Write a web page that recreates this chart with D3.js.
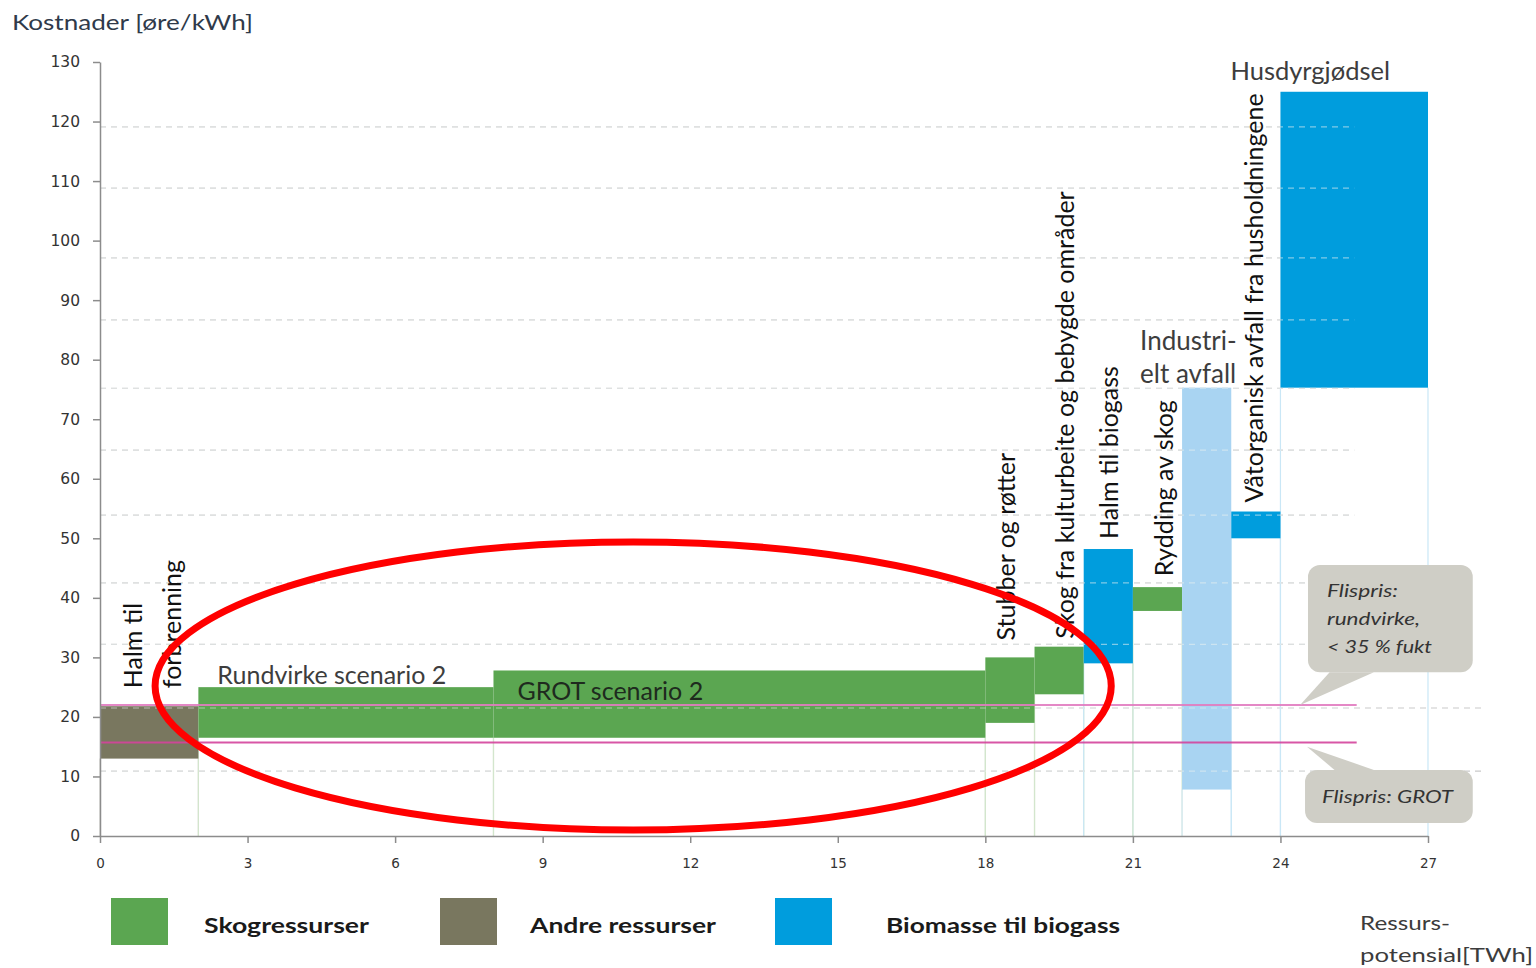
<!DOCTYPE html>
<html>
<head>
<meta charset="utf-8">
<script src="https://cdn.jsdelivr.net/npm/d3@7"></script>
<style>
  html, body { margin: 0; padding: 0; background: #ffffff; }
  svg { display: block; font-family: Lato, "Open Sans", "DejaVu Sans", sans-serif; }
</style>
</head>
<body>
<svg id="chart" width="1536" height="968"></svg>
<script>
// ---- Supply curve data: cost range (øre/kWh) per resource and its potential (TWh) ----
const resources = [
  'Halm til forbrenning', 'Rundvirke scenario 2', 'GROT scenario 2', 'Stubber og røtter',
  'Skog fra kulturbeite og bebygde områder', 'Halm til biogass', 'Rydding av skog',
  'Industrielt avfall', 'Våtorganisk avfall fra husholdningene', 'Husdyrgjødsel'
];
const potentialTWh = [2, 6, 10, 1, 1, 1, 1, 1, 1, 3];
const costLow      = [13, 16.5, 16.5, 19, 23.8, 29, 37.8, 7.8, 50, 75.3];
const costHigh     = [21.8, 25, 27.8, 30, 31.8, 48.2, 41.8, 75.3, 54.5, 125];
const resourceGroup = ['andre', 'skog', 'skog', 'skog', 'skog', 'biogass', 'skog', 'industri', 'biogass', 'biogass'];

// Text drawn next to each block
const resourceLabels = [
  ['Halm  til', 'forbrenning'], ['Rundvirke scenario 2'], ['GROT scenario 2'], ['Stubber og røtter'],
  ['Skog fra kulturbeite og bebygde områder'], ['Halm  til biogass'], ['Rydding av skog'],
  ['Industri-', 'elt avfall'], ['Våtorganisk avfall fra husholdningene'], ['Husdyrgjødsel']
];

// Legend
const legendGroups = ['skog', 'andre', 'biogass'];
const legendLabels = ['Skogressurser', 'Andre ressurser', 'Biomasse til biogass'];

// Wood chip reference prices (øre/kWh)
const priceValues = [22, 15.7];
const priceLabels = [['Flispris:', 'rundvirke,', '< 35 % fukt'], ['Flispris: GROT']];

// Axes
const yTicks = [0, 10, 20, 30, 40, 50, 60, 70, 80, 90, 100, 110, 120, 130];
const xTicks = [0, 3, 6, 9, 12, 15, 18, 21, 24, 27];
const gridValues = [10.9, 21.5, 32.2, 42.5, 53.9, 64.8, 75.2, 86.7, 97.1, 108.8, 119.1];

// ---- Styling ----
const groupColor = { skog: '#5ba651', andre: '#79775f', biogass: '#009ddd', industri: '#a9d4f2' };
const dropColor  = { skog: '#d3e6cd', andre: '#d6d6d0', biogass: '#c9e7f6', industri: '#d8ebf8' };

const svg = d3.select('#chart');
const x = d3.scaleLinear().domain([0, 27]).range([100, 1428]);
const y = d3.scaleLinear().domain([0, 130]).range([836, 62]);

// cumulative start of each block along the potential axis
const starts = [];
potentialTWh.reduce((acc, w, i) => { starts[i] = acc; return acc + w; }, 0);
const blocks = resources.map((name, i) => ({
  name, i, x0: starts[i], x1: starts[i] + potentialTWh[i],
  lo: costLow[i], hi: costHigh[i], group: resourceGroup[i], lines: resourceLabels[i]
}));

// Dashed background grid
const gridEnd = v => v < 25 ? 28.1 : 25.5;
const gridG = svg.append('g');
gridG.selectAll('line').data(gridValues).join('line')
  .attr('x1', x(0)).attr('x2', d => x(gridEnd(d)))
  .attr('y1', d => y(d)).attr('y2', d => y(d))
  .attr('stroke', '#c9c9c9').attr('stroke-width', 1.2).attr('stroke-dasharray', '6,5');

// Drop lines from each block down to the axis
const dropG = svg.append('g');
blocks.forEach(b => {
  [b.x0, b.x1].forEach(xv => {
    dropG.append('line')
      .attr('x1', x(xv)).attr('x2', x(xv))
      .attr('y1', y(b.lo)).attr('y2', y(0))
      .attr('stroke', dropColor[b.group]).attr('stroke-width', 1.2);
  });
});

// Cost blocks
svg.append('g').selectAll('rect').data(blocks).join('rect')
  .attr('x', d => x(d.x0)).attr('width', d => x(d.x1) - x(d.x0))
  .attr('y', d => y(d.hi)).attr('height', d => y(d.lo) - y(d.hi))
  .attr('fill', d => groupColor[d.group]);

// Faint grid showing through the blocks
const gridTop = svg.append('g');
gridTop.selectAll('line').data(gridValues).join('line')
  .attr('x1', x(0)).attr('x2', d => x(Math.min(gridEnd(d), 25.5)))
  .attr('y1', d => y(d)).attr('y2', d => y(d))
  .attr('stroke', 'rgba(235,240,240,0.55)').attr('stroke-width', 1.2).attr('stroke-dasharray', '6,5');

// Reference price lines
const priceColors = ['#e27cc0', '#d4449d'];
svg.append('g').selectAll('line').data(priceValues).join('line')
  .attr('x1', x(0)).attr('x2', x(25.55))
  .attr('y1', d => y(d)).attr('y2', d => y(d))
  .attr('stroke', (d, i) => priceColors[i]).attr('stroke-width', 2).attr('opacity', 0.9);

// Axes
const yAxis = svg.append('g').attr('transform', `translate(${x(0)},0)`)
  .call(d3.axisLeft(y).tickValues(yTicks).tickSize(7).tickPadding(13).tickSizeOuter(0));
const xAxis = svg.append('g').attr('transform', `translate(0,${y(0)})`)
  .call(d3.axisBottom(x).tickValues(xTicks).tickSize(7).tickPadding(15).tickSizeOuter(0));
[yAxis, xAxis].forEach(a => {
  a.select('.domain').attr('stroke', '#8c8c8c').attr('stroke-width', 1.5);
  a.selectAll('.tick line').attr('stroke', '#8c8c8c').attr('stroke-width', 1.5);
  a.selectAll('.tick text').attr('fill', '#333').style('font-family', '"DejaVu Sans", sans-serif');
});
yAxis.selectAll('.tick text').style('font-size', '15.5px');
xAxis.selectAll('.tick text').style('font-size', '13.5px');

// Axis titles
svg.append('text').attr('x', 12).attr('y', 30)
  .attr('fill', '#2f3a4a').style('font-size', '22px')
  .attr('textLength', 241).attr('lengthAdjust', 'spacingAndGlyphs')
  .text('Kostnader [øre/kWh]');
const xTitleLines = ['Ressurs-', 'potensial[TWh]'];
const xTitleWidths = [90, 173];
xTitleLines.forEach((t, k) => {
  svg.append('text').attr('x', 1360).attr('y', 930 + k * 32)
    .attr('fill', '#3c3c3c').style('font-size', '20px')
    .attr('textLength', xTitleWidths[k]).attr('lengthAdjust', 'spacingAndGlyphs').text(t);
});

// Block labels: rotated ones read bottom-to-top above the block
const labelLayout = [
  { rot: true,  centers: [-16, 23], gap: 18, size: 25 },
  { rot: false, dx: 19, dy: -3, size: 25, color: '#3d3d3d' },
  { rot: false, dx: 24, dy: 30, size: 25, color: '#1e2a1e' },
  { rot: true,  centers: [-4], gap: 17, size: 25 },
  { rot: true,  centers: [6], gap: 8, size: 25 },
  { rot: true,  centers: [1], gap: 10, size: 25 },
  { rot: true,  centers: [7], gap: 11, size: 25 },
  { rot: false, dx: -42, dy: -38, lineGap: 33, size: 26, color: '#3d3d3d' },
  { rot: true,  centers: [-2], gap: 9, size: 25 },
  { rot: false, dx: -50, dy: -12, size: 25.5, color: '#3d3d3d' }
];
const labelG = svg.append('g').style('white-space', 'pre');
blocks.forEach((b, i) => {
  const L = labelLayout[i];
  const cx = (x(b.x0) + x(b.x1)) / 2;
  if (L.rot) {
    b.lines.forEach((t, k) => {
      const bx = cx + L.centers[k] + 0.36 * L.size;
      const by = y(b.hi) - L.gap;
      labelG.append('text')
        .attr('transform', `translate(${bx},${by}) rotate(-90)`)
        .attr('fill', '#111').style('font-size', L.size + 'px').text(t);
    });
  } else {
    b.lines.forEach((t, k) => {
      labelG.append('text')
        .attr('x', x(b.x0) + L.dx).attr('y', y(b.hi) + L.dy + k * (L.lineGap || 0))
        .attr('fill', L.color).style('font-size', L.size + 'px').text(t);
    });
  }
});

// Price callouts
const callouts = [
  { box: [24.56, 27.91, 45.5, 27.5], tail: [[25.0, 27.5], [25.9, 27.5], [24.4, 22.0]],
    textX: 19, textY: 32, widths: [71, 93, 105] },
  { box: [24.5, 27.91, 11.1, 2.2], tail: [[25.1, 11.1], [25.9, 11.1], [24.54, 15.0]],
    textX: 17, textY: 33, widths: [131] }
];
const calloutG = svg.append('g');
callouts.forEach((c, i) => {
  const [bx0, bx1, by0, by1] = c.box;
  calloutG.append('rect')
    .attr('x', x(bx0)).attr('y', y(by0))
    .attr('width', x(bx1) - x(bx0)).attr('height', y(by1) - y(by0))
    .attr('rx', 12).attr('fill', '#cfcec6');
  calloutG.append('path')
    .attr('d', d3.line()(c.tail.map(p => [x(p[0]), y(p[1])])) + 'Z')
    .attr('fill', '#cfcec6');
  priceLabels[i].forEach((s, k) => {
    calloutG.append('text').attr('fill', '#333')
      .style('font-size', '18px').style('font-style', 'italic')
      .attr('x', x(bx0) + c.textX).attr('y', y(by0) + c.textY + k * 28)
      .attr('textLength', c.widths[k]).attr('lengthAdjust', 'spacingAndGlyphs')
      .text(s);
  });
});

// Highlight ellipse around the forest resources
const ring = { cx: 10.84, cy: 25.2, rx: 9.72, ry: 24.2 };
svg.append('ellipse')
  .attr('cx', x(ring.cx)).attr('cy', y(ring.cy))
  .attr('rx', x(ring.rx) - x(0)).attr('ry', y(0) - y(ring.ry))
  .attr('fill', 'none').attr('stroke', '#ff0000').attr('stroke-width', 7);

// Legend
const legendX = [111, 440, 775];
const legendTextX = [204, 530, 886];
const legendTextW = [165, 186, 234];
const legendG = svg.append('g');
legendGroups.forEach((g, i) => {
  legendG.append('rect').attr('x', legendX[i]).attr('y', 898).attr('width', 57).attr('height', 47)
    .attr('fill', groupColor[g]);
  legendG.append('text').attr('x', legendTextX[i]).attr('y', 933)
    .attr('fill', '#1a1a1a').style('font-size', '21px').style('font-weight', 'bold')
    .attr('textLength', legendTextW[i]).attr('lengthAdjust', 'spacingAndGlyphs')
    .text(legendLabels[i]);
});
</script>
</body>
</html>
